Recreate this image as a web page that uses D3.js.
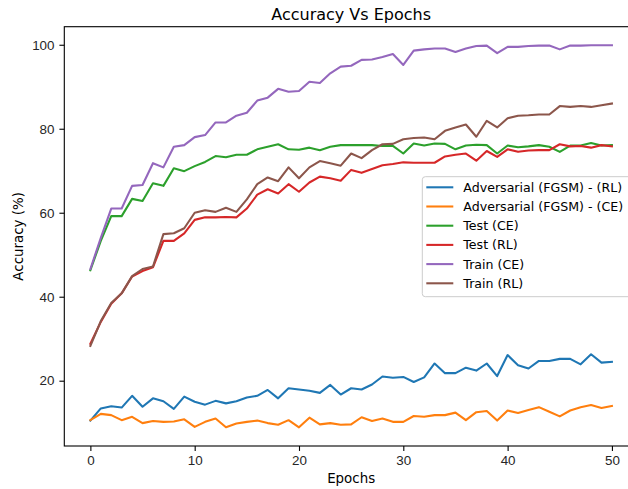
<!DOCTYPE html>
<html>
<head>
<meta charset="utf-8">
<script src="https://cdn.jsdelivr.net/npm/d3@7/dist/d3.min.js"></script>
<style>
  body { margin: 0; background: #fff; }
  svg { display: block; font-family: "DejaVu Sans", sans-serif; }
  .tick text { font-size: 13.4px; fill: #262626; }
</style>
</head>
<body>
<div id="chart"></div>
<script>
const epochs = d3.range(0, 51)

const advRL = [10.5,13.4,13.9,13.6,16.4,13.8,15.8,15.1,13.3,16.2,15.0,14.3,15.2,14.6,15.1,16.0,16.4,17.8,15.8,18.2,17.9,17.6,17.1,19.0,16.7,18.2,17.9,19.1,21.0,20.7,20.9,19.7,20.8,24.1,21.8,21.8,23.1,22.4,24.1,21.1,26.1,23.7,22.9,24.7,24.7,25.2,25.2,23.9,26.3,24.3,24.5]
const advCE = [10.6,12.1,11.8,10.6,11.4,9.9,10.4,10.2,10.3,10.8,9.0,10.2,11.0,8.9,9.8,10.2,10.5,9.9,9.5,10.6,8.9,11.2,9.6,9.9,9.5,9.6,11.3,10.4,11.0,10.2,10.2,11.6,11.4,11.8,11.8,12.4,10.6,12.5,12.8,10.5,12.9,12.3,13.0,13.7,12.6,11.5,12.9,13.7,14.2,13.5,14.0]
const testCE = [46.3,53.3,59.2,59.2,63.3,62.8,67.0,66.4,70.6,69.9,71.1,72.1,73.5,73.2,73.8,73.8,75.1,75.7,76.3,75.1,75.0,75.5,74.9,75.7,76.1,76.1,76.1,76.1,75.9,75.9,74.1,76.5,76.0,76.5,76.4,75.1,76.0,76.2,76.1,74.1,76.0,75.6,75.8,76.1,75.7,74.5,76.0,76.0,76.6,76.0,76.1]
const testRL = [28.8,34.0,38.3,40.8,44.8,46.1,47.0,53.3,53.3,55.1,58.3,58.9,58.9,59.0,58.9,61.0,64.3,65.6,64.6,66.8,65.0,67.2,68.6,68.2,67.6,70.2,69.5,70.4,71.3,71.6,72.0,71.9,71.9,71.9,73.4,73.8,74.1,72.4,74.7,73.3,75.1,74.5,74.8,74.9,74.9,76.3,75.8,75.9,75.5,76.1,75.8]
const trainCE = [46.6,54.0,61.0,61.0,66.4,66.6,71.8,70.8,75.7,76.1,78.0,78.5,81.5,81.5,83.1,83.8,86.7,87.4,89.5,88.8,89.0,91.2,90.9,93.2,94.8,95.0,96.4,96.5,97.1,97.8,95.2,98.6,98.9,99.1,99.1,98.3,99.1,99.7,99.8,98.0,99.5,99.5,99.7,99.8,99.8,98.9,99.8,99.8,99.9,99.9,99.9]
const trainRL = [28.3,34.2,38.5,40.8,44.9,46.6,47.2,54.9,55.1,56.3,60.0,60.6,60.2,61.2,60.2,63.2,66.8,68.4,67.5,70.8,68.2,70.8,72.3,71.8,71.2,74.1,73.0,74.9,76.3,76.4,77.5,77.8,77.9,77.5,79.5,80.3,81.0,78.1,81.9,80.3,82.5,83.1,83.2,83.4,83.4,85.4,85.2,85.4,85.2,85.6,86.0]

const seriesNames = ['Adversarial (FGSM) - (RL)', 'Adversarial (FGSM) - (CE)', 'Test (CE)', 'Test (RL)', 'Train (CE)', 'Train (RL)']
const seriesValues = [advRL, advCE, testCE, testRL, trainCE, trainRL]
const colours = ['#1f77b4', '#ff7f0e', '#2ca02c', '#d62728', '#9467bd', '#8c564b']

const xTicks = [0, 10, 20, 30, 40, 50]
const yTicks = [20, 40, 60, 80, 100]

const width = 628
const height = 489
const plot = {left: 64.3, right: 638, top: 26.7, bottom: 446}

const svg = d3.select('#chart')
  .append('svg')
  .attr('width', width)
  .attr('height', height)

const xScale = d3.scaleLinear()
  .domain([-2.5, 52.5])
  .range([plot.left, plot.right])

const yScale = d3.scaleLinear()
  .domain([4.45, 104.3])
  .range([plot.bottom, plot.top])

const line = d3.line()
  .x((d, i) => xScale(epochs[i]))
  .y(d => yScale(d))

const graph = svg.append('g')

graph.selectAll('path')
  .data(seriesValues)
  .enter()
  .append('path')
  .attr('d', d => line(d))
  .attr('fill', 'none')
  .attr('stroke', (d, i) => colours[i])
  .attr('stroke-width', 2.08)
  .attr('stroke-linejoin', 'round')
  .attr('stroke-linecap', 'square')

// axes
const xAxis = svg.append('g')
  .attr('transform', `translate(0,${plot.bottom})`)
  .call(d3.axisBottom(xScale).tickValues(xTicks).tickSize(4.9).tickPadding(4.9).tickSizeOuter(0))

const yAxis = svg.append('g')
  .attr('transform', `translate(${plot.left},0)`)
  .call(d3.axisLeft(yScale).tickValues(yTicks).tickSize(4.9).tickPadding(4.9).tickSizeOuter(0))

svg.selectAll('.domain').remove()
svg.selectAll('.tick line').attr('stroke', '#000').attr('stroke-width', 1.1)
xAxis.selectAll('.tick text').attr('dy', '0.75em').attr('y', 9)

// spines
svg.append('rect')
  .attr('x', plot.left)
  .attr('y', plot.top)
  .attr('width', plot.right - plot.left)
  .attr('height', plot.bottom - plot.top)
  .attr('fill', 'none')
  .attr('stroke', '#000')
  .attr('stroke-width', 1.1)

// titles
svg.append('text')
  .attr('x', (plot.left + plot.right) / 2)
  .attr('y', 19.5)
  .attr('text-anchor', 'middle')
  .attr('font-size', 16)
  .attr('fill', '#000')
  .text('Accuracy Vs Epochs')

svg.append('text')
  .attr('x', (plot.left + plot.right) / 2)
  .attr('y', 483)
  .attr('text-anchor', 'middle')
  .attr('font-size', 13.4)
  .attr('fill', '#000')
  .text('Epochs')

svg.append('text')
  .attr('transform', `translate(23,${(plot.top + plot.bottom) / 2}) rotate(-90)`)
  .attr('text-anchor', 'middle')
  .attr('font-size', 13.4)
  .attr('fill', '#000')
  .text('Accuracy (%)')

// legend
const legend = svg.append('g')
  .attr('transform', 'translate(422.3,176.7)')

legend.append('rect')
  .attr('width', 210)
  .attr('height', 120)
  .attr('rx', 3)
  .attr('fill', '#fff')
  .attr('fill-opacity', 0.8)
  .attr('stroke', '#cccccc')
  .attr('stroke-width', 1)

const items = legend.selectAll('g.item')
  .data(seriesNames)
  .enter()
  .append('g')
  .attr('class', 'item')
  .attr('transform', (d, i) => `translate(0,${10.6 + i * 19.2})`)

items.append('line')
  .attr('x1', 4)
  .attr('x2', 31)
  .attr('stroke', (d, i) => colours[i])
  .attr('stroke-width', 2.08)

items.append('text')
  .attr('x', 41)
  .attr('dy', '0.36em')
  .attr('font-size', 12.6)
  .attr('fill', '#000')
  .text(d => d)
</script>
</body>
</html>
